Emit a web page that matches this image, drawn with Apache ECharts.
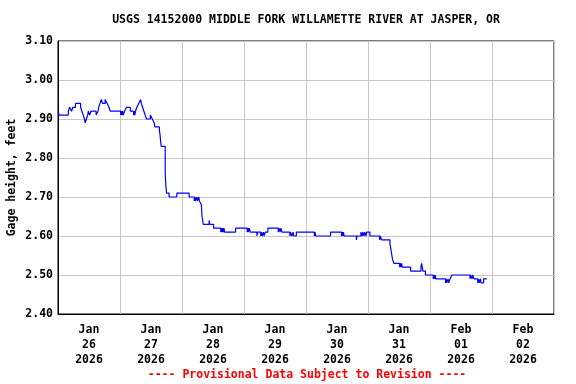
<!DOCTYPE html>
<html>
<head>
<meta charset="utf-8">
<script src="https://cdn.jsdelivr.net/npm/echarts@6/dist/echarts.min.js"></script>
<style>html,body{margin:0;padding:0;background:#fff}#c{width:576px;height:384px}</style>
</head>
<body>
<div id="c"></div>
<script>
// Hours since 2026-01-26 00:00 and gage height (feet)
var hours = [0,0.5,4.0,4.5,5.25,5.75,6.75,8.75,9.25,9.75,10.25,10.5,11.0,11.5,11.75,12.25,12.75,14.75,15.5,15.75,16.25,16.75,17.25,18.25,19.0,19.75,20.25,
24.25,24.5,24.75,25.0,25.25,25.75,26.5,28.0,29.25,29.5,29.75,30.0,30.5,31.25,32.0,32.25,32.75,33.25,33.75,34.25,35.75,36.5,37.25,37.5,39.25,39.5,39.75,40.0,
41.5,41.75,42.0,43.0,46.0,50.75,52.75,53.0,53.25,53.75,54.0,54.5,54.75,55.5,55.75,56.0,56.25,58.5,58.75,60.25,
63.0,63.25,63.5,63.75,64.0,64.25,64.5,68.75,73.25,73.5,73.75,74.0,74.5,77.0,77.25,78.5,78.75,79.0,79.5,79.75,80.25,81.25,
85.25,85.5,86.0,86.25,86.75,89.75,90.0,90.5,91.0,91.25,92.25,99.25,99.5,99.75,105.5,109.75,110.0,110.25,110.5,110.75,115.5,115.75,
117.25,117.75,118.0,118.5,118.75,119.25,119.5,120.75,124.5,124.75,125.25,128.5,128.75,129.0,129.25,129.5,130.0,
132.25,132.5,132.75,133.0,133.25,136.5,140.5,140.75,141.0,141.25,142.25,145.25,145.5,145.75,146.0,146.25,
150.0,150.25,150.5,151.0,151.25,151.75,152.5,159.5,159.75,160.25,160.5,161.0,162.5,162.75,163.0,163.5,163.75,164.75,166.0];
var gage = [2.92,2.91,2.92,2.93,2.92,2.93,2.94,2.93,2.92,2.91,2.90,2.89,2.90,2.91,2.92,2.91,2.92,2.91,2.92,2.93,2.94,2.95,2.94,2.95,2.94,2.93,2.92,
2.91,2.92,2.91,2.92,2.91,2.92,2.93,2.92,2.91,2.92,2.91,2.92,2.93,2.94,2.95,2.94,2.93,2.92,2.91,2.90,2.91,2.90,2.89,2.88,2.87,2.86,2.84,2.83,
2.76,2.73,2.71,2.70,2.71,2.70,2.69,2.70,2.69,2.70,2.69,2.70,2.69,2.68,2.65,2.64,2.63,2.64,2.63,2.62,
2.61,2.62,2.61,2.62,2.61,2.62,2.61,2.62,2.61,2.62,2.61,2.62,2.61,2.60,2.61,2.60,2.61,2.60,2.61,2.60,2.61,2.62,
2.61,2.62,2.61,2.62,2.61,2.60,2.61,2.60,2.61,2.60,2.61,2.60,2.61,2.60,2.61,2.60,2.61,2.60,2.61,2.60,2.59,2.60,
2.61,2.60,2.61,2.60,2.61,2.60,2.61,2.60,2.59,2.60,2.59,2.58,2.57,2.56,2.55,2.54,2.53,
2.52,2.53,2.52,2.53,2.52,2.51,2.52,2.53,2.52,2.51,2.50,2.49,2.50,2.49,2.50,2.49,
2.48,2.49,2.48,2.49,2.48,2.49,2.50,2.49,2.50,2.49,2.50,2.49,2.48,2.49,2.48,2.49,2.48,2.49,2.49];
var dayLabels = ['Jan\n26\n2026','Jan\n27\n2026','Jan\n28\n2026','Jan\n29\n2026','Jan\n30\n2026','Jan\n31\n2026','Feb\n01\n2026','Feb\n02\n2026'];
var titleText = 'USGS 14152000 MIDDLE FORK WILLAMETTE RIVER AT JASPER, OR';
var footText = '---- Provisional Data Subject to Revision ----';
var yName = 'Gage height, feet';

var FONT = 'DejaVu Sans Mono';
var pts = hours.map(function(h,i){return [h, gage[i]];});
var chart = echarts.init(document.getElementById('c'), null, {renderer:'canvas'});
chart.setOption({
  animation:false,
  backgroundColor:'#fff',
  grid:{left:58,right:22,top:41,bottom:70,containLabel:false,outerBoundsMode:'none',show:true,borderColor:'#000',borderWidth:1,backgroundColor:'transparent'},
  graphic:[
    {type:'text',x:306,y:20,style:{text:titleText,fill:'#000',font:'bold 11.5px "DejaVu Sans Mono"',align:'center',verticalAlign:'middle'}},
    {type:'text',x:307,y:375,style:{text:footText,fill:'#ff0000',font:'bold 11.5px "DejaVu Sans Mono"',align:'center',verticalAlign:'middle'}}
  ],
  xAxis:[
    {type:'value',min:0,max:192,show:false},
    {type:'category',data:dayLabels,boundaryGap:true,position:'bottom',
     axisLine:{show:true,lineStyle:{color:'#000',width:1}},
     axisTick:{show:false},
     axisLabel:{interval:0,color:'#000',fontFamily:FONT,fontWeight:'bold',fontSize:11.5,lineHeight:15,margin:9},
     splitLine:{show:true,interval:0,lineStyle:{color:'#c8c8c8',width:1}}}
  ],
  yAxis:{type:'value',min:2.4,max:3.1,interval:0.1,
    name:yName,nameLocation:'middle',nameGap:40,nameRotate:90,nameMoveOverlap:false,
    nameTextStyle:{color:'#000',fontFamily:FONT,fontWeight:'bold',fontSize:11.5},
    axisLine:{show:true,lineStyle:{color:'#000'}},
    axisTick:{show:false},
    axisLabel:{color:'#000',fontFamily:FONT,fontWeight:'bold',fontSize:11.5,margin:5,formatter:function(v){return v.toFixed(2);}},
    splitLine:{show:true,lineStyle:{color:'#c8c8c8',width:1}}},
  series:[{type:'line',xAxisIndex:0,data:pts,step:'end',showSymbol:false,symbol:'none',
    lineStyle:{color:'#0000ff',width:1.2},itemStyle:{color:'#0000ff'},z:3}]
});
</script>
</body>
</html>
